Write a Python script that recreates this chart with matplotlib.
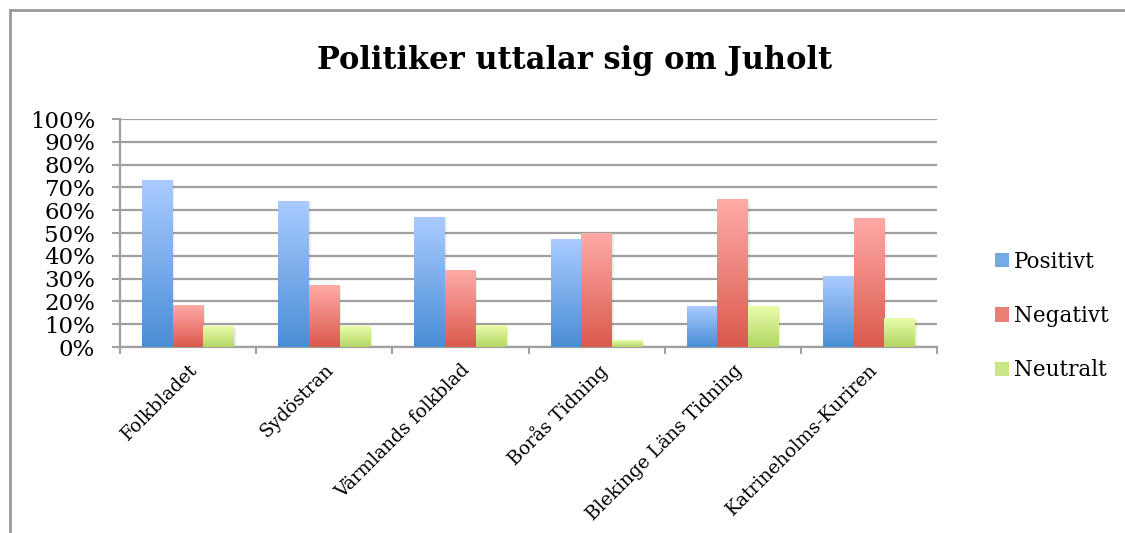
import numpy as np
from matplotlib import pyplot as plt
from matplotlib.colors import LinearSegmentedColormap
from matplotlib.lines import Line2D
from matplotlib.patches import Patch
from matplotlib.ticker import PercentFormatter

tidningar = [
    "Folkbladet",
    "Sydöstran",
    "Värmlands folkblad",
    "Borås Tidning",
    "Blekinge Läns Tidning",
    "Katrineholms-Kuriren",
]
positivt = [0.73, 0.64, 0.57, 0.47, 0.176, 0.31]
negativt = [0.18, 0.27, 0.335, 0.50, 0.647, 0.565]
neutralt = [0.09, 0.09, 0.095, 0.03, 0.177, 0.125]

serier = ["Positivt", "Negativt", "Neutralt"]
# (mörk botten, ljus topp)
farger = {
    "Positivt": ("#4a8ed6", "#a9cbff"),
    "Negativt": ("#da5a4e", "#ffaaa6"),
    "Neutralt": ("#b3d665", "#e9fcaa"),
}

plt.rcParams["font.family"] = ["DejaVu Serif"]

fig = plt.figure(figsize=(11.25, 5.33), dpi=100)
ax = fig.add_axes([120 / 1125, 1 - 347 / 533, 817 / 1125, 228 / 533])

x = np.arange(len(tidningar))
bredd = 0.225
gradient = np.linspace(0, 1, 64).reshape(-1, 1)

for i, (namn, varden) in enumerate(zip(serier, [positivt, negativt, neutralt])):
    cmap = LinearSegmentedColormap.from_list(namn, farger[namn])
    for xi, v in zip(x + (i - 1) * bredd, varden):
        # svag skugga bakom stapeln
        ax.bar(xi + 0.012, v, width=bredd, bottom=-0.006, color="black",
               alpha=0.08, zorder=2, linewidth=0)
        ax.imshow(gradient, extent=[xi - bredd / 2, xi + bredd / 2, 0, v],
                  origin="lower", aspect="auto", cmap=cmap, zorder=3)

ax.set_xlim(-0.5, len(tidningar) - 0.5)
ax.set_ylim(0, 1.0)

ax.set_yticks(np.arange(0, 1.01, 0.1))
ax.yaxis.set_major_formatter(PercentFormatter(1.0, decimals=0))
ax.grid(axis="y", color="#a0a0a0", linewidth=1.6, zorder=0)
ax.set_axisbelow(True)

ax.set_xticks(x)
ax.set_xticklabels(tidningar, rotation=45, ha="right", va="top",
                   rotation_mode="anchor", fontsize=13.5)
ax.set_xticks(np.arange(-0.5, len(tidningar)), minor=True)
ax.tick_params(axis="x", which="major", length=0, pad=10)
ax.tick_params(axis="x", which="minor", length=5, width=1.5, color="#a0a0a0")
ax.tick_params(axis="y", length=6, width=1.5, color="#a0a0a0",
               labelsize=16.5, pad=12)

for side in ["top", "right"]:
    ax.spines[side].set_visible(False)
for side in ["left", "bottom"]:
    ax.spines[side].set_color("#a0a0a0")
    ax.spines[side].set_linewidth(1.6)

fig.text(575 / 1125, 1 - 61 / 533, "Politiker uttalar sig om Juholt",
         ha="center", va="center", fontsize=22, fontweight="bold")

handles = [Patch(facecolor=LinearSegmentedColormap.from_list(s, farger[s])(0.45),
                 edgecolor="none") for s in serier]
fig.legend(handles, serier, loc="center left",
           bbox_to_anchor=(984 / 1125, 1 - 316 / 533), frameon=False,
           fontsize=15.5, handlelength=0.65, handleheight=0.65,
           handletextpad=0.25, labelspacing=1.5, borderpad=0)

# ram runt diagrammet
fig.add_artist(Line2D([10 / 1125, 10 / 1125], [0, 1 - 10 / 533],
                      transform=fig.transFigure, color="#999999", linewidth=2))
fig.add_artist(Line2D([10 / 1125, 1], [1 - 10 / 533, 1 - 10 / 533],
                      transform=fig.transFigure, color="#999999", linewidth=2))

fig.savefig("out.png", dpi=100)
